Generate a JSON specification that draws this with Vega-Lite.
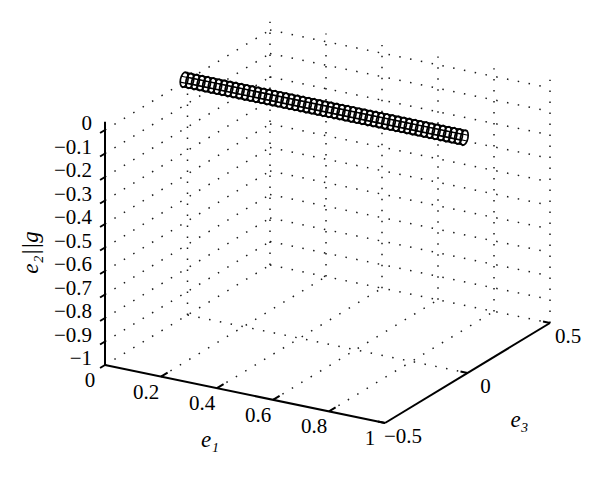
{
  "$schema": "https://vega.github.io/schema/vega-lite/v6.json",
  "width": 600,
  "height": 484,
  "autosize": {"type": "fit", "contains": "padding"},
  "padding": 0,
  "background": "white",
  "config": {"view": {"stroke": null}, "text": {"font": "Liberation Serif", "color": "black"}},
  "datasets": {
    "grid": [
      {"a1": 0, "a3": -0.5, "a2": -1, "b1": 0, "b3": 0.5, "b2": -1},
      {"a1": 0.2, "a3": -0.5, "a2": -1, "b1": 0.2, "b3": 0.5, "b2": -1},
      {"a1": 0.4, "a3": -0.5, "a2": -1, "b1": 0.4, "b3": 0.5, "b2": -1},
      {"a1": 0.6, "a3": -0.5, "a2": -1, "b1": 0.6, "b3": 0.5, "b2": -1},
      {"a1": 0.8, "a3": -0.5, "a2": -1, "b1": 0.8, "b3": 0.5, "b2": -1},
      {"a1": 0, "a3": 0, "a2": -1, "b1": 1, "b3": 0, "b2": -1},
      {"a1": 0, "a3": 0.5, "a2": -1, "b1": 1, "b3": 0.5, "b2": -1},
      {"a1": 0, "a3": 0.5, "a2": -1, "b1": 0, "b3": 0.5, "b2": 0.035},
      {"a1": 0.2, "a3": 0.5, "a2": -1, "b1": 0.2, "b3": 0.5, "b2": 0.035},
      {"a1": 0.4, "a3": 0.5, "a2": -1, "b1": 0.4, "b3": 0.5, "b2": 0.035},
      {"a1": 0.6, "a3": 0.5, "a2": -1, "b1": 0.6, "b3": 0.5, "b2": 0.035},
      {"a1": 0.8, "a3": 0.5, "a2": -1, "b1": 0.8, "b3": 0.5, "b2": 0.035},
      {"a1": 1, "a3": 0.5, "a2": -1, "b1": 1, "b3": 0.5, "b2": 0.035},
      {"a1": 0, "a3": 0.5, "a2": 0, "b1": 1, "b3": 0.5, "b2": 0},
      {"a1": 0, "a3": 0.5, "a2": -0.1, "b1": 1, "b3": 0.5, "b2": -0.1},
      {"a1": 0, "a3": 0.5, "a2": -0.2, "b1": 1, "b3": 0.5, "b2": -0.2},
      {"a1": 0, "a3": 0.5, "a2": -0.3, "b1": 1, "b3": 0.5, "b2": -0.3},
      {"a1": 0, "a3": 0.5, "a2": -0.4, "b1": 1, "b3": 0.5, "b2": -0.4},
      {"a1": 0, "a3": 0.5, "a2": -0.5, "b1": 1, "b3": 0.5, "b2": -0.5},
      {"a1": 0, "a3": 0.5, "a2": -0.6, "b1": 1, "b3": 0.5, "b2": -0.6},
      {"a1": 0, "a3": 0.5, "a2": -0.7, "b1": 1, "b3": 0.5, "b2": -0.7},
      {"a1": 0, "a3": 0.5, "a2": -0.8, "b1": 1, "b3": 0.5, "b2": -0.8},
      {"a1": 0, "a3": 0.5, "a2": -0.9, "b1": 1, "b3": 0.5, "b2": -0.9},
      {"a1": 0, "a3": 0, "a2": -1, "b1": 0, "b3": 0, "b2": 0.035},
      {"a1": 0, "a3": -0.5, "a2": 0, "b1": 0, "b3": 0.5, "b2": 0},
      {"a1": 0, "a3": -0.5, "a2": -0.1, "b1": 0, "b3": 0.5, "b2": -0.1},
      {"a1": 0, "a3": -0.5, "a2": -0.2, "b1": 0, "b3": 0.5, "b2": -0.2},
      {"a1": 0, "a3": -0.5, "a2": -0.3, "b1": 0, "b3": 0.5, "b2": -0.3},
      {"a1": 0, "a3": -0.5, "a2": -0.4, "b1": 0, "b3": 0.5, "b2": -0.4},
      {"a1": 0, "a3": -0.5, "a2": -0.5, "b1": 0, "b3": 0.5, "b2": -0.5},
      {"a1": 0, "a3": -0.5, "a2": -0.6, "b1": 0, "b3": 0.5, "b2": -0.6},
      {"a1": 0, "a3": -0.5, "a2": -0.7, "b1": 0, "b3": 0.5, "b2": -0.7},
      {"a1": 0, "a3": -0.5, "a2": -0.8, "b1": 0, "b3": 0.5, "b2": -0.8},
      {"a1": 0, "a3": -0.5, "a2": -0.9, "b1": 0, "b3": 0.5, "b2": -0.9}
    ],
    "axes": [
      {"a1": 0, "a3": -0.5, "a2": -1, "b1": 0, "b3": -0.5, "b2": 0.035},
      {"a1": 0, "a3": -0.5, "a2": -1, "b1": 1, "b3": -0.5, "b2": -1},
      {"a1": 1, "a3": -0.5, "a2": -1, "b1": 1, "b3": 0.5, "b2": -1},
      {"a1": 0, "a3": -0.5, "a2": 0, "b1": 0, "b3": -0.53, "b2": 0},
      {"a1": 0, "a3": -0.5, "a2": -0.1, "b1": 0, "b3": -0.53, "b2": -0.1},
      {"a1": 0, "a3": -0.5, "a2": -0.2, "b1": 0, "b3": -0.53, "b2": -0.2},
      {"a1": 0, "a3": -0.5, "a2": -0.3, "b1": 0, "b3": -0.53, "b2": -0.3},
      {"a1": 0, "a3": -0.5, "a2": -0.4, "b1": 0, "b3": -0.53, "b2": -0.4},
      {"a1": 0, "a3": -0.5, "a2": -0.5, "b1": 0, "b3": -0.53, "b2": -0.5},
      {"a1": 0, "a3": -0.5, "a2": -0.6, "b1": 0, "b3": -0.53, "b2": -0.6},
      {"a1": 0, "a3": -0.5, "a2": -0.7, "b1": 0, "b3": -0.53, "b2": -0.7},
      {"a1": 0, "a3": -0.5, "a2": -0.8, "b1": 0, "b3": -0.53, "b2": -0.8},
      {"a1": 0, "a3": -0.5, "a2": -0.9, "b1": 0, "b3": -0.53, "b2": -0.9},
      {"a1": 0, "a3": -0.5, "a2": -1, "b1": 0, "b3": -0.53, "b2": -1},
      {"a1": 0.2, "a3": -0.5, "a2": -1, "b1": 0.2, "b3": -0.46, "b2": -1},
      {"a1": 0.4, "a3": -0.5, "a2": -1, "b1": 0.4, "b3": -0.46, "b2": -1},
      {"a1": 0.6, "a3": -0.5, "a2": -1, "b1": 0.6, "b3": -0.46, "b2": -1},
      {"a1": 0.8, "a3": -0.5, "a2": -1, "b1": 0.8, "b3": -0.46, "b2": -1},
      {"a1": 1, "a3": -0.5, "a2": -1, "b1": 0.975, "b3": -0.5, "b2": -1},
      {"a1": 1, "a3": 0, "a2": -1, "b1": 0.975, "b3": 0, "b2": -1},
      {"a1": 1, "a3": 0.5, "a2": -1, "b1": 0.975, "b3": 0.5, "b2": -1}
    ],
    "labels": [
      {"axis": "z", "t": "0", "e1": 0, "e3": -0.5, "e2": 0},
      {"axis": "z", "t": "−0.1", "e1": 0, "e3": -0.5, "e2": -0.1},
      {"axis": "z", "t": "−0.2", "e1": 0, "e3": -0.5, "e2": -0.2},
      {"axis": "z", "t": "−0.3", "e1": 0, "e3": -0.5, "e2": -0.3},
      {"axis": "z", "t": "−0.4", "e1": 0, "e3": -0.5, "e2": -0.4},
      {"axis": "z", "t": "−0.5", "e1": 0, "e3": -0.5, "e2": -0.5},
      {"axis": "z", "t": "−0.6", "e1": 0, "e3": -0.5, "e2": -0.6},
      {"axis": "z", "t": "−0.7", "e1": 0, "e3": -0.5, "e2": -0.7},
      {"axis": "z", "t": "−0.8", "e1": 0, "e3": -0.5, "e2": -0.8},
      {"axis": "z", "t": "−0.9", "e1": 0, "e3": -0.5, "e2": -0.9},
      {"axis": "z", "t": "−1", "e1": 0, "e3": -0.5, "e2": -1},
      {"axis": "x", "t": "0", "e1": 0, "e3": -0.5, "e2": -1},
      {"axis": "x", "t": "0.2", "e1": 0.2, "e3": -0.5, "e2": -1},
      {"axis": "x", "t": "0.4", "e1": 0.4, "e3": -0.5, "e2": -1},
      {"axis": "x", "t": "0.6", "e1": 0.6, "e3": -0.5, "e2": -1},
      {"axis": "x", "t": "0.8", "e1": 0.8, "e3": -0.5, "e2": -1},
      {"axis": "x", "t": "1", "e1": 1, "e3": -0.5, "e2": -1},
      {"axis": "y", "t": "−0.5", "e1": 1, "e3": -0.5, "e2": -1},
      {"axis": "y", "t": "0", "e1": 1, "e3": 0, "e2": -1},
      {"axis": "y", "t": "0.5", "e1": 1, "e3": 0.5, "e2": -1},
      {"axis": "tx", "t": "e₁", "e1": 0.5, "e3": -0.5, "e2": -1},
      {"axis": "ty", "t": "e₃", "e1": 1, "e3": 0, "e2": -1},
      {"axis": "tz", "t": "e₂||g", "e1": 0, "e3": -0.5, "e2": -0.5}
    ],
    "tubeaxis": [
      {"a1": 0, "a3": -0.02, "a2": 0.01, "b1": 1, "b3": -0.02, "b2": 0.01}
    ],
    "tubelines": [
      {"a1": 0, "a3": 0.004, "a2": 0.01, "b1": 1, "b3": 0.004, "b2": 0.01},
      {"a1": 0, "a3": -0.003, "a2": 0.0316, "b1": 1, "b3": -0.003, "b2": 0.0316},
      {"a1": 0, "a3": -0.02, "a2": 0.0406, "b1": 1, "b3": -0.02, "b2": 0.0406},
      {"a1": 0, "a3": -0.037, "a2": 0.0316, "b1": 1, "b3": -0.037, "b2": 0.0316},
      {"a1": 0, "a3": -0.044, "a2": 0.01, "b1": 1, "b3": -0.044, "b2": 0.01},
      {"a1": 0, "a3": -0.037, "a2": -0.0116, "b1": 1, "b3": -0.037, "b2": -0.0116},
      {"a1": 0, "a3": -0.02, "a2": -0.0206, "b1": 1, "b3": -0.02, "b2": -0.0206},
      {"a1": 0, "a3": -0.003, "a2": -0.0116, "b1": 1, "b3": -0.003, "b2": -0.0116}
    ],
    "rings": [
      {"e1": 0, "e3": -0.02, "e2": 0.01}, {"e1": 0.02, "e3": -0.02, "e2": 0.01},
      {"e1": 0.04, "e3": -0.02, "e2": 0.01}, {"e1": 0.06, "e3": -0.02, "e2": 0.01},
      {"e1": 0.08, "e3": -0.02, "e2": 0.01}, {"e1": 0.1, "e3": -0.02, "e2": 0.01},
      {"e1": 0.12, "e3": -0.02, "e2": 0.01}, {"e1": 0.14, "e3": -0.02, "e2": 0.01},
      {"e1": 0.16, "e3": -0.02, "e2": 0.01}, {"e1": 0.18, "e3": -0.02, "e2": 0.01},
      {"e1": 0.2, "e3": -0.02, "e2": 0.01}, {"e1": 0.22, "e3": -0.02, "e2": 0.01},
      {"e1": 0.24, "e3": -0.02, "e2": 0.01}, {"e1": 0.26, "e3": -0.02, "e2": 0.01},
      {"e1": 0.28, "e3": -0.02, "e2": 0.01}, {"e1": 0.3, "e3": -0.02, "e2": 0.01},
      {"e1": 0.32, "e3": -0.02, "e2": 0.01}, {"e1": 0.34, "e3": -0.02, "e2": 0.01},
      {"e1": 0.36, "e3": -0.02, "e2": 0.01}, {"e1": 0.38, "e3": -0.02, "e2": 0.01},
      {"e1": 0.4, "e3": -0.02, "e2": 0.01}, {"e1": 0.42, "e3": -0.02, "e2": 0.01},
      {"e1": 0.44, "e3": -0.02, "e2": 0.01}, {"e1": 0.46, "e3": -0.02, "e2": 0.01},
      {"e1": 0.48, "e3": -0.02, "e2": 0.01}, {"e1": 0.5, "e3": -0.02, "e2": 0.01},
      {"e1": 0.52, "e3": -0.02, "e2": 0.01}, {"e1": 0.54, "e3": -0.02, "e2": 0.01},
      {"e1": 0.56, "e3": -0.02, "e2": 0.01}, {"e1": 0.58, "e3": -0.02, "e2": 0.01},
      {"e1": 0.6, "e3": -0.02, "e2": 0.01}, {"e1": 0.62, "e3": -0.02, "e2": 0.01},
      {"e1": 0.64, "e3": -0.02, "e2": 0.01}, {"e1": 0.66, "e3": -0.02, "e2": 0.01},
      {"e1": 0.68, "e3": -0.02, "e2": 0.01}, {"e1": 0.7, "e3": -0.02, "e2": 0.01},
      {"e1": 0.72, "e3": -0.02, "e2": 0.01}, {"e1": 0.74, "e3": -0.02, "e2": 0.01},
      {"e1": 0.76, "e3": -0.02, "e2": 0.01}, {"e1": 0.78, "e3": -0.02, "e2": 0.01},
      {"e1": 0.8, "e3": -0.02, "e2": 0.01}, {"e1": 0.82, "e3": -0.02, "e2": 0.01},
      {"e1": 0.84, "e3": -0.02, "e2": 0.01}, {"e1": 0.86, "e3": -0.02, "e2": 0.01},
      {"e1": 0.88, "e3": -0.02, "e2": 0.01}, {"e1": 0.9, "e3": -0.02, "e2": 0.01},
      {"e1": 0.92, "e3": -0.02, "e2": 0.01}, {"e1": 0.94, "e3": -0.02, "e2": 0.01},
      {"e1": 0.96, "e3": -0.02, "e2": 0.01}, {"e1": 0.98, "e3": -0.02, "e2": 0.01},
      {"e1": 1, "e3": -0.02, "e2": 0.01}
    ]
  },
  "layer": [
    {
      "data": {"name": "grid"},
      "transform": [
        {"calculate": "105 + 280*datum.a1 + 165*(datum.a3+0.5)", "as": "x"},
        {"calculate": "365 + 58*datum.a1 - 100*(datum.a3+0.5) - 235*(datum.a2+1)", "as": "y"},
        {"calculate": "105 + 280*datum.b1 + 165*(datum.b3+0.5)", "as": "x2"},
        {"calculate": "365 + 58*datum.b1 - 100*(datum.b3+0.5) - 235*(datum.b2+1)", "as": "y2"}
      ],
      "mark": {"type": "rule", "color": "#1a1a1a", "strokeWidth": 1.5, "strokeDash": [1.5, 9.5]},
      "encoding": {
        "x": {"field": "x", "type": "quantitative", "scale": {"domain": [0, 600], "nice": false, "zero": false}, "axis": null},
        "y": {"field": "y", "type": "quantitative", "scale": {"domain": [0, 484], "nice": false, "zero": false, "reverse": true}, "axis": null},
        "x2": {"field": "x2"},
        "y2": {"field": "y2"}
      }
    },
    {
      "data": {"name": "axes"},
      "transform": [
        {"calculate": "105 + 280*datum.a1 + 165*(datum.a3+0.5)", "as": "x"},
        {"calculate": "365 + 58*datum.a1 - 100*(datum.a3+0.5) - 235*(datum.a2+1)", "as": "y"},
        {"calculate": "105 + 280*datum.b1 + 165*(datum.b3+0.5)", "as": "x2"},
        {"calculate": "365 + 58*datum.b1 - 100*(datum.b3+0.5) - 235*(datum.b2+1)", "as": "y2"}
      ],
      "mark": {"type": "rule", "color": "black", "strokeWidth": 2},
      "encoding": {
        "x": {"field": "x", "type": "quantitative"},
        "y": {"field": "y", "type": "quantitative"},
        "x2": {"field": "x2"},
        "y2": {"field": "y2"}
      }
    },
    {
      "data": {"name": "labels"},
      "transform": [
        {"filter": "datum.axis == 'z'"},
        {"calculate": "105 + 280*datum.e1 + 165*(datum.e3+0.5)", "as": "x"},
        {"calculate": "365 + 58*datum.e1 - 100*(datum.e3+0.5) - 235*(datum.e2+1)", "as": "y"}
      ],
      "mark": {"type": "text", "font": "Liberation Serif", "align": "right", "baseline": "middle", "dx": -13, "dy": -6, "fontSize": 21},
      "encoding": {
        "x": {"field": "x", "type": "quantitative"},
        "y": {"field": "y", "type": "quantitative"},
        "text": {"field": "t"}
      }
    },
    {
      "data": {"name": "labels"},
      "transform": [
        {"filter": "datum.axis == 'x'"},
        {"calculate": "105 + 280*datum.e1 + 165*(datum.e3+0.5)", "as": "x"},
        {"calculate": "365 + 58*datum.e1 - 100*(datum.e3+0.5) - 235*(datum.e2+1)", "as": "y"}
      ],
      "mark": {"type": "text", "font": "Liberation Serif", "align": "center", "baseline": "middle", "dx": -15, "dy": 16, "fontSize": 21},
      "encoding": {
        "x": {"field": "x", "type": "quantitative"},
        "y": {"field": "y", "type": "quantitative"},
        "text": {"field": "t"}
      }
    },
    {
      "data": {"name": "labels"},
      "transform": [
        {"filter": "datum.axis == 'y'"},
        {"calculate": "105 + 280*datum.e1 + 165*(datum.e3+0.5)", "as": "x"},
        {"calculate": "365 + 58*datum.e1 - 100*(datum.e3+0.5) - 235*(datum.e2+1)", "as": "y"}
      ],
      "mark": {"type": "text", "font": "Liberation Serif", "align": "center", "baseline": "middle", "dx": 18, "dy": 14, "fontSize": 21},
      "encoding": {
        "x": {"field": "x", "type": "quantitative"},
        "y": {"field": "y", "type": "quantitative"},
        "text": {"field": "t"}
      }
    },
    {
      "data": {"name": "labels"},
      "transform": [
        {"filter": "datum.axis == 'tx'"},
        {"calculate": "105 + 280*datum.e1 + 165*(datum.e3+0.5)", "as": "x"},
        {"calculate": "365 + 58*datum.e1 - 100*(datum.e3+0.5) - 235*(datum.e2+1)", "as": "y"}
      ],
      "mark": {"type": "text", "font": "Liberation Serif", "align": "center", "baseline": "middle", "dx": -35, "dy": 46, "fontSize": 23, "fontStyle": "italic"},
      "encoding": {
        "x": {"field": "x", "type": "quantitative"},
        "y": {"field": "y", "type": "quantitative"},
        "text": {"field": "t"}
      }
    },
    {
      "data": {"name": "labels"},
      "transform": [
        {"filter": "datum.axis == 'ty'"},
        {"calculate": "105 + 280*datum.e1 + 165*(datum.e3+0.5)", "as": "x"},
        {"calculate": "365 + 58*datum.e1 - 100*(datum.e3+0.5) - 235*(datum.e2+1)", "as": "y"}
      ],
      "mark": {"type": "text", "font": "Liberation Serif", "align": "center", "baseline": "middle", "dx": 52, "dy": 47, "fontSize": 23, "fontStyle": "italic"},
      "encoding": {
        "x": {"field": "x", "type": "quantitative"},
        "y": {"field": "y", "type": "quantitative"},
        "text": {"field": "t"}
      }
    },
    {
      "data": {"name": "labels"},
      "transform": [
        {"filter": "datum.axis == 'tz'"},
        {"calculate": "105 + 280*datum.e1 + 165*(datum.e3+0.5)", "as": "x"},
        {"calculate": "365 + 58*datum.e1 - 100*(datum.e3+0.5) - 235*(datum.e2+1)", "as": "y"}
      ],
      "mark": {"type": "text", "font": "Liberation Serif", "align": "center", "baseline": "middle", "angle": 270, "dx": -5, "dy": -74, "fontSize": 23, "fontStyle": "italic"},
      "encoding": {
        "x": {"field": "x", "type": "quantitative"},
        "y": {"field": "y", "type": "quantitative"},
        "text": {"field": "t"}
      }
    },
    {
      "data": {"name": "tubeaxis"},
      "transform": [
        {"calculate": "105 + 280*datum.a1 + 165*(datum.a3+0.5)", "as": "x"},
        {"calculate": "365 + 58*datum.a1 - 100*(datum.a3+0.5) - 235*(datum.a2+1)", "as": "y"},
        {"calculate": "105 + 280*datum.b1 + 165*(datum.b3+0.5)", "as": "x2"},
        {"calculate": "365 + 58*datum.b1 - 100*(datum.b3+0.5) - 235*(datum.b2+1)", "as": "y2"}
      ],
      "mark": {"type": "rule", "color": "white", "strokeWidth": 15, "strokeCap": "round"},
      "encoding": {
        "x": {"field": "x", "type": "quantitative"},
        "y": {"field": "y", "type": "quantitative"},
        "x2": {"field": "x2"},
        "y2": {"field": "y2"}
      }
    },
    {
      "data": {"name": "tubelines"},
      "transform": [
        {"calculate": "105 + 280*datum.a1 + 165*(datum.a3+0.5)", "as": "x"},
        {"calculate": "365 + 58*datum.a1 - 100*(datum.a3+0.5) - 235*(datum.a2+1)", "as": "y"},
        {"calculate": "105 + 280*datum.b1 + 165*(datum.b3+0.5)", "as": "x2"},
        {"calculate": "365 + 58*datum.b1 - 100*(datum.b3+0.5) - 235*(datum.b2+1)", "as": "y2"}
      ],
      "mark": {"type": "rule", "color": "black", "strokeWidth": 1.2},
      "encoding": {
        "x": {"field": "x", "type": "quantitative"},
        "y": {"field": "y", "type": "quantitative"},
        "x2": {"field": "x2"},
        "y2": {"field": "y2"}
      }
    },
    {
      "data": {"name": "rings"},
      "transform": [
        {"calculate": "105 + 280*datum.e1 + 165*(datum.e3+0.5)", "as": "x"},
        {"calculate": "365 + 58*datum.e1 - 100*(datum.e3+0.5) - 235*(datum.e2+1)", "as": "y"}
      ],
      "mark": {
        "type": "point",
        "shape": "M0.5,-0.3L0.4619,-0.6216L0.3536,-0.8485L0.1913,-0.9463L0,-0.9L-0.1913,-0.7167L-0.3536,-0.4243L-0.4619,-0.0672L-0.5,0.3L-0.4619,0.6216L-0.3536,0.8485L-0.1913,0.9463L0,0.9L0.1913,0.7167L0.3536,0.4243L0.4619,0.0672Z",
        "size": 256,
        "filled": false,
        "color": "black",
        "strokeWidth": 1.7,
        "opacity": 1
      },
      "encoding": {
        "x": {"field": "x", "type": "quantitative"},
        "y": {"field": "y", "type": "quantitative"}
      }
    }
  ]
}
